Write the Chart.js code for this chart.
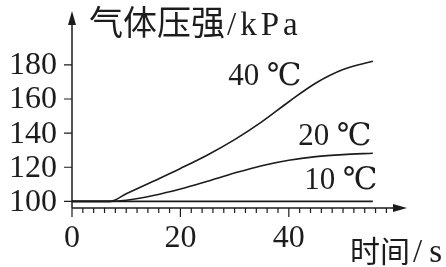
<!DOCTYPE html>
<html>
<head>
<meta charset="utf-8">
<script src="https://cdn.jsdelivr.net/npm/chart.js@4/dist/chart.umd.min.js"></script>
<style>
  body { margin: 0; background: #fff; }
  #wrap { width: 446px; height: 267px; }
</style>
</head>
<body>
<div id="wrap"><canvas id="gasChart" width="446" height="267"></canvas></div>
<script>
// time (s) and gas pressure (kPa)
const times = [0, 7, 10, 15, 20, 25, 30, 35, 40, 45, 50, 55.5];
const p40 = [100, 100, 104.4, 111.8, 119.3, 127.2, 136.2, 146.6, 158.4, 169.4, 177.3, 182.2];
const p20 = [100, 100, 100.6, 103.4, 107.2, 111.8, 116.6, 120.9, 124.1, 126.2, 127.4, 128.2];
const p10 = [100, 100, 100, 100, 100, 100, 100, 100, 100, 100, 100, 100];

const seriesNames = ['40 ℃', '20 ℃', '10 ℃'];
// where each series name sits, in data units [t, p]
const namePos = [[35.6, 173], [48.5, 138], [49.6, 112]];

const yTicks = [100, 120, 140, 160, 180];
const xLabels = [0, 20, 40];
const xMinorStep = 2;
const xMinorMax = 58;

const ink = '#1c1c1c';
const serif = '"Liberation Serif", "DejaVu Serif", serif';
const cjk = '"Noto Sans CJK SC", sans-serif';

function toPoints(ys) {
  return times.map((t, i) => ({ x: t, y: ys[i] }));
}

function spaced(ctx, px) {
  if ('letterSpacing' in ctx) ctx.letterSpacing = px + 'px';
}

const axesPlugin = {
  id: 'axesPlugin',
  afterDraw(chart) {
    const ctx = chart.ctx;
    const xs = chart.scales.x;
    const ys = chart.scales.y;
    const a = chart.chartArea;
    const x0 = xs.getPixelForValue(0);
    const yb = a.bottom;

    ctx.save();
    ctx.strokeStyle = ink;
    ctx.fillStyle = ink;
    ctx.lineWidth = 1.5;

    // axis lines
    ctx.beginPath();
    ctx.moveTo(x0, yb);
    ctx.lineTo(x0, a.top + 8);
    ctx.moveTo(x0, yb);
    ctx.lineTo(a.right - 8, yb);
    ctx.stroke();

    // arrow heads
    ctx.beginPath();
    ctx.moveTo(x0, a.top);
    ctx.lineTo(x0 - 4, a.top + 14);
    ctx.lineTo(x0 + 4, a.top + 14);
    ctx.closePath();
    ctx.fill();
    ctx.beginPath();
    ctx.moveTo(a.right, yb);
    ctx.lineTo(a.right - 14, yb - 4);
    ctx.lineTo(a.right - 14, yb + 4);
    ctx.closePath();
    ctx.fill();

    // x ticks (minor every 2 s, longer at labelled values)
    ctx.lineWidth = 1.2;
    ctx.beginPath();
    for (let t = 0; t <= xMinorMax; t += xMinorStep) {
      const px = xs.getPixelForValue(t);
      const len = xLabels.includes(t) ? 9 : 5;
      ctx.moveTo(px, yb);
      ctx.lineTo(px, yb + len);
    }
    // y ticks
    yTicks.forEach(v => {
      const py = ys.getPixelForValue(v);
      ctx.moveTo(x0, py);
      ctx.lineTo(x0 - 8, py);
    });
    ctx.stroke();

    // tick labels
    ctx.font = '32px ' + serif;
    ctx.textAlign = 'right';
    ctx.textBaseline = 'middle';
    yTicks.forEach(v => {
      ctx.fillText(String(v), x0 - 15, ys.getPixelForValue(v) + 1);
    });
    ctx.textAlign = 'center';
    ctx.textBaseline = 'top';
    xLabels.forEach(v => {
      ctx.fillText(String(v), xs.getPixelForValue(v), yb + 15);
    });

    // series names
    ctx.textAlign = 'center';
    ctx.textBaseline = 'middle';
    ctx.font = '31px ' + serif;
    namePos.forEach((p, i) => {
      ctx.fillText(seriesNames[i], xs.getPixelForValue(p[0]), ys.getPixelForValue(p[1]));
    });

    // axis titles
    ctx.textAlign = 'left';
    ctx.textBaseline = 'alphabetic';
    ctx.font = '34px ' + cjk;
    ctx.fillText('气体压强', 89, 35);
    let w = ctx.measureText('气体压强').width;
    ctx.font = '33px ' + serif;
    spaced(ctx, 4);
    ctx.fillText('/kPa', 89 + w + 2, 35);
    spaced(ctx, 0);

    ctx.font = '30px ' + cjk;
    ctx.fillText('时间', 350, 262);
    w = ctx.measureText('时间').width;
    ctx.font = '33px ' + serif;
    spaced(ctx, 7);
    ctx.fillText('/s', 350 + w + 3, 262);
    spaced(ctx, 0);

    ctx.restore();
  }
};

new Chart(document.getElementById('gasChart').getContext('2d'), {
  type: 'line',
  data: {
    datasets: [
      { label: seriesNames[0], data: toPoints(p40) },
      { label: seriesNames[1], data: toPoints(p20) },
      { label: seriesNames[2], data: toPoints(p10) }
    ].map(d => Object.assign(d, {
      borderColor: ink,
      borderWidth: 1.6,
      pointRadius: 0,
      fill: false,
      cubicInterpolationMode: 'monotone'
    }))
  },
  options: {
    responsive: false,
    animation: false,
    devicePixelRatio: 1,
    layout: { padding: { left: 72, right: 39, top: 11, bottom: 59 } },
    plugins: { legend: { display: false }, tooltip: { enabled: false } },
    scales: {
      x: { type: 'linear', min: 0, max: 61.8, display: false },
      y: { type: 'linear', min: 96.1, max: 211.6, display: false }
    }
  },
  plugins: [axesPlugin]
});
</script>
</body>
</html>
